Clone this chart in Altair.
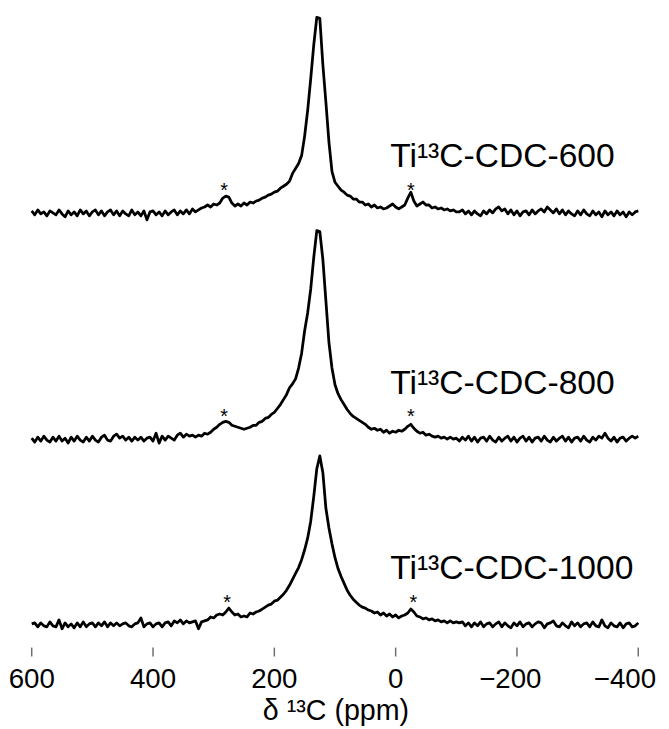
import altair as alt
import pandas as pd

# chemical-shift grid (ppm), 5 ppm steps from 600 down to -400
ppm = list(range(600, -401, -5))

# intensities (arbitrary units), one value per grid point
t600 = [
    # 600 .. 330
    2, -2, 3, -1, 1, -3, 2, 0, -2, 3,
    -1, -4, 2, -2, 1, -3, 3, -1, 2, -3,
    1, 3, -2, 2, -3, 1, 3, -2, 2, -3,
    2, -1, -3, 3, -2, 1, -3, 2, -7, 1,
    2, -2, 1, -3, 2, -2, 1, 3, -2, 2,
    -1, 3, -1, 4, 1,
    # 325 .. 135
    3, 5, 6, 8, 6, 9, 8, 10, 15, 17,
    16, 10, 7, 9, 7, 10, 8, 11, 10, 12,
    13, 15, 16, 18, 19, 21, 22, 25, 27, 29,
    32, 40, 45, 50, 58, 78, 104, 136, 170,
    # 130 .. -100
    198, 197, 150, 112, 72, 42, 31, 27, 23, 21,
    18, 17, 14, 14, 11, 11, 8, 9, 6, 8,
    5, 6, 4, 5, 7, 9, 6, 4, 6, 8,
    15, 21, 12, 7, 9, 11, 8, 8, 5, 6,
    4, 5, 3, 4, 2, 3, 1,
    # -105 .. -400
    1, 3, -1, 2, -2, 2, -1, -3, 2, -1,
    3, 0, 4, 6, 2, 4, -1, 3, -2, 2,
    -3, 1, 2, -2, 3, -1, 2, 4, 1, 6,
    3, 0, 4, -1, 3, -2, 2, -1, -3, 2,
    -2, 3, -1, -3, 2, -2, 1, -4, 2, -2,
    1, -3, 2, -2, 1, -4, 1, -2, 1, 2,
]

t800 = [
    # 600 .. 330
    1, -3, 2, -2, 3, -1, -3, 2, -2, 3,
    -2, 1, -4, 2, -2, 3, -1, -3, 2, -2,
    3, -1, -3, 2, 4, -1, -2, 3, 5, 1,
    3, -1, 2, -2, 2, -1, 2, -2, 1, 2,
    -2, 6, -4, 3, -1, 3, 1, -1, 4, 6,
    2, 5, 3, 4, 2,
    # 325 .. 135
    4, 3, 6, 5, 7, 10, 12, 15, 17, 18,
    17, 14, 13, 12, 11, 10, 11, 12, 14, 14,
    17, 18, 21, 22, 25, 27, 31, 35, 40, 45,
    52, 56, 61, 72, 87, 110, 128, 152, 184,
    # 130 .. -100
    211, 210, 182, 140, 98, 72, 55, 46, 40, 35,
    30, 26, 23, 21, 19, 17, 15, 12, 10, 11,
    9, 10, 7, 9, 6, 8, 7, 9, 8, 10,
    13, 15, 11, 8, 6, 7, 4, 5, 3, 2,
    3, 1, 2, 0, 2, 0, 1,
    # -105 .. -400
    -2, 2, -1, 3, -2, 2, -3, 1, 2, -2,
    3, -1, -3, 2, -2, 1, 3, -2, 2, -3,
    1, 3, -2, 2, -3, 1, 2, -2, 3, -1,
    -3, 2, -2, 1, 3, -2, 2, -3, 1, 2,
    -2, 3, -1, -3, 2, -1, 3, 1, 6, 1,
    -2, 2, -3, 1, 2, -2, 1, 3, 1, 3,
]

t1000 = [
    # 600 .. 330
    1, 2, -2, 2, -1, -2, 3, -1, -2, 5,
    -4, 2, -2, 1, -3, 2, -2, 3, -2, 1,
    2, -2, 2, -1, 3, -2, 2, -1, 2, -1,
    1, 2, -1, -2, 1, 2, 7, -2, 1, 2,
    -2, 1, 2, -2, 2, 3, -1, 4, 2, 5,
    1, 4, 2, 3, 4,
    # 325 .. 135
    -4, 3, 4, 5, 8, 7, 10, 11, 10, 13,
    17, 13, 10, 11, 8, 9, 8, 12, 11, 13,
    14, 16, 18, 20, 21, 24, 25, 28, 31, 35,
    40, 46, 52, 58, 66, 76, 88, 105, 130,
    # 130 .. -100
    158, 171, 154, 118, 98, 82, 68, 57, 49, 42,
    35, 30, 26, 23, 20, 18, 17, 15, 14, 12,
    13, 10, 12, 9, 11, 8, 10, 7, 9, 10,
    12, 16, 13, 9, 8, 6, 7, 5, 6, 4,
    5, 3, 4, 2, 4, 2, 3,
    # -105 .. -400
    2, 3, -1, 2, -2, 2, -1, 3, -2, 1,
    2, -2, 1, 3, -2, 2, -1, -3, 2, -1,
    3, -2, 1, 2, -2, 1, 3, 2, -3, 1,
    2, 4, -1, -2, 2, -1, -3, 3, -1, 2,
    -2, 1, 2, -2, 3, -1, -2, 5, -1, -3,
    2, -1, -2, 2, -3, 1, 2, -2, -1, 2,
]

samples = ["Ti¹³C-CDC-600", "Ti¹³C-CDC-800", "Ti¹³C-CDC-1000"]
sideband_ppm = [[283, -25], [283, -25], [278, -29]]
tick_values = [600, 400, 200, 0, -200, -400]
tick_text = ["600", "400", "200", "0", "−200", "−400"]
axis_title = "δ ¹³C (ppm)"

# layout / style constants
offsets = [449, 220, 32]
label_ppm = 9
label_dy = 46
star_dy = 16
tick_label_shift = [0, 0, 0, 0, 11, 22]
FONT = "Liberation Sans"
W, H = 614, 652

rows = []
for name, off, vals in zip(samples, offsets, [t600, t800, t1000]):
    for p, v in zip(ppm, vals):
        rows.append({"ppm": p, "y": v + off, "sample": name})
df = pd.DataFrame(rows)

lab_df = pd.DataFrame({
    "ppm": [label_ppm] * 3,
    "y": [o + label_dy for o in offsets],
    "text": samples,
})
star_rows = []
for off, sb in zip(offsets, sideband_ppm):
    for p in sb:
        star_rows.append({"ppm": p, "y": off + star_dy, "text": "*"})
star_df = pd.DataFrame(star_rows)
tick_df = pd.DataFrame({"ppm": tick_values})
ticklab_df = pd.DataFrame({
    "ppm": [t + s for t, s in zip(tick_values, tick_label_shift)],
    "text": tick_text,
})
title_df = pd.DataFrame({"text": [axis_title]})

xscale = alt.Scale(domain=[600, -400], nice=False, zero=False)
yscale = alt.Scale(domain=[0, H], nice=False, zero=False)

lines = alt.Chart(df).mark_line(
    color="black", strokeWidth=2.8, strokeJoin="round"
).encode(
    x=alt.X("ppm:Q", scale=xscale,
            axis=alt.Axis(labels=False, ticks=False, title=None, grid=False,
                          domainColor="#6e6e6e", domainWidth=1.5)),
    y=alt.Y("y:Q", scale=yscale, axis=None),
    detail="sample:N",
)

labels = alt.Chart(lab_df).mark_text(
    align="left", baseline="alphabetic", fontSize=34, font=FONT, color="black"
).encode(x=alt.X("ppm:Q", scale=xscale, axis=None),
         y=alt.Y("y:Q", scale=yscale, axis=None), text="text:N")

stars = alt.Chart(star_df).mark_text(
    align="center", baseline="alphabetic", fontSize=20, font=FONT, color="black"
).encode(x=alt.X("ppm:Q", scale=xscale, axis=None),
         y=alt.Y("y:Q", scale=yscale, axis=None), text="text:N")

ticks = alt.Chart(tick_df).mark_rule(color="#6e6e6e", strokeWidth=1.5).encode(
    x=alt.X("ppm:Q", scale=xscale, axis=None),
    y=alt.value(H - 9), y2=alt.value(H),
)

ticklabels = alt.Chart(ticklab_df).mark_text(
    align="center", baseline="alphabetic", fontSize=28, font=FONT, color="black"
).encode(x=alt.X("ppm:Q", scale=xscale, axis=None),
         y=alt.value(H + 32), text="text:N")

xtitle = alt.Chart(title_df).mark_text(
    align="center", baseline="alphabetic", fontSize=29, font=FONT, color="black"
).encode(x=alt.value(308), y=alt.value(H + 64), text="text:N")

chart = alt.layer(lines, ticks, labels, stars, ticklabels, xtitle).properties(
    width=W, height=H,
    autosize=alt.AutoSizeParams(type="none"),
    padding={"left": 24, "top": 0, "right": 23, "bottom": 69},
).configure(background="white").configure_view(stroke="transparent", strokeWidth=0)

chart.save("out.html", embed_options={"renderer": "svg", "actions": False})
